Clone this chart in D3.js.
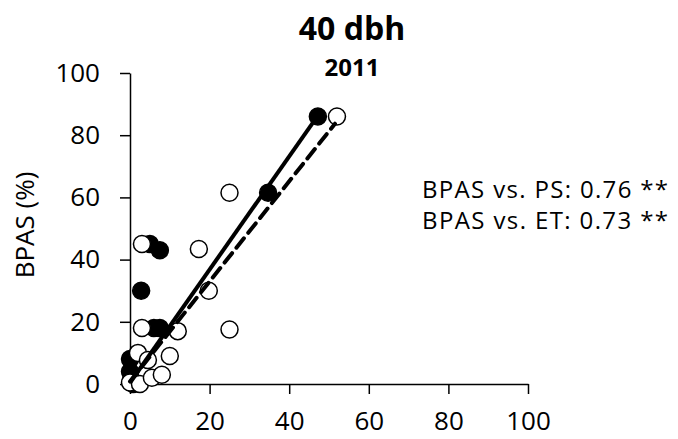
<!DOCTYPE html>
<html><head><meta charset="utf-8">
<script src="https://cdn.jsdelivr.net/npm/d3@7"></script>
<style>body{margin:0;background:#fff}svg{display:block}text{font-family:"Open Sans",Lato,sans-serif;fill:#000}</style>
</head><body><svg id="c" width="678" height="439"></svg>
<script>
const title = "40 dbh";
const subtitle = "2011";
const yLabel = "BPAS (%)";
const xTicks = [0, 20, 40, 60, 80, 100];
const yTicks = [0, 20, 40, 60, 80, 100];
// PS series (filled)
const psX = [47.2, 34.7, 5, 7.5, 2.8, 6, 7.5, 0, 0, 0.3, 0.8];
const psY = [86, 61.5, 45, 43, 30, 18, 18, 8, 4, 1.5, 0];
// ET series (open)
const etX = [52, 25, 3, 17.3, 19.8, 3, 12, 25, 10, 2, 4.5, 0, 2.5, 5.5, 8];
const etY = [86, 61.5, 45, 43.4, 30, 18, 17, 17.5, 9, 10, 7.7, 0.5, 0, 2, 3];
// trend lines
const psLineX = [0, 47.2], psLineY = [0.4, 86.3];
const etLineX = [0, 51.5], etLineY = [0.8, 83.7];
const annotations = ["BPAS vs. PS: 0.76 **", "BPAS vs. ET: 0.73 **"];

const svg = d3.select("#c");
const x = d3.scaleLinear().domain([0, 100]).range([130, 528]);
const y = d3.scaleLinear().domain([0, 100]).range([384, 73]);

const xa = svg.append("g").attr("transform", "translate(0,384)")
  .call(d3.axisBottom(x).tickValues(xTicks).tickSize(10).tickPadding(18).tickSizeOuter(0));
const ya = svg.append("g").attr("transform", "translate(130,0)")
  .call(d3.axisLeft(y).tickValues(yTicks).tickSize(10).tickPadding(20).tickSizeOuter(0));
xa.attr("font-family", null); ya.attr("font-family", null);
[xa, ya].forEach(g => {
  g.selectAll("path,line").attr("stroke", "#000").attr("stroke-width", 1.5);
  g.selectAll("text").style("font-size", "26px").attr("fill", "#000");
});

svg.append("text").attr("x", 352).attr("y", 40).attr("text-anchor", "middle")
  .style("font-weight", "bold").style("font-size", "32px").text(title);
svg.append("text").attr("x", 352).attr("y", 76).attr("text-anchor", "middle")
  .style("font-weight", "bold").style("font-size", "24px").text(subtitle);
svg.append("text").attr("transform", "translate(34,225) rotate(-90)").attr("text-anchor", "middle")
  .style("font-size", "26px").text(yLabel);
annotations.forEach((t, i) => {
  svg.append("text").attr("x", 422).attr("y", 198 + i * 31)
    .style("font-size", "24px").attr("textLength", 246).attr("lengthAdjust", "spacing").text(t);
});

const r = 8.5;
svg.append("g").selectAll("circle").data(psX.map((d, i) => [d, psY[i]])).join("circle")
  .attr("cx", d => x(d[0])).attr("cy", d => y(d[1])).attr("r", r)
  .attr("fill", "#000").attr("stroke", "#000").attr("stroke-width", 1.5);
svg.append("g").selectAll("circle").data(etX.map((d, i) => [d, etY[i]])).join("circle")
  .attr("cx", d => x(d[0])).attr("cy", d => y(d[1])).attr("r", r)
  .attr("fill", "#fff").attr("stroke", "#000").attr("stroke-width", 1.5);

const line = d3.line().x(d => x(d[0])).y(d => y(d[1]));
svg.append("path").attr("d", line(psLineX.map((d, i) => [d, psLineY[i]])))
  .attr("stroke", "#000").attr("stroke-width", 4).attr("fill", "none");
svg.append("path").attr("d", line(etLineX.map((d, i) => [d, etLineY[i]])))
  .attr("stroke", "#000").attr("stroke-width", 4).attr("fill", "none")
  .attr("stroke-dasharray", "12,7").attr("stroke-linecap", "round");
</script></body></html>
